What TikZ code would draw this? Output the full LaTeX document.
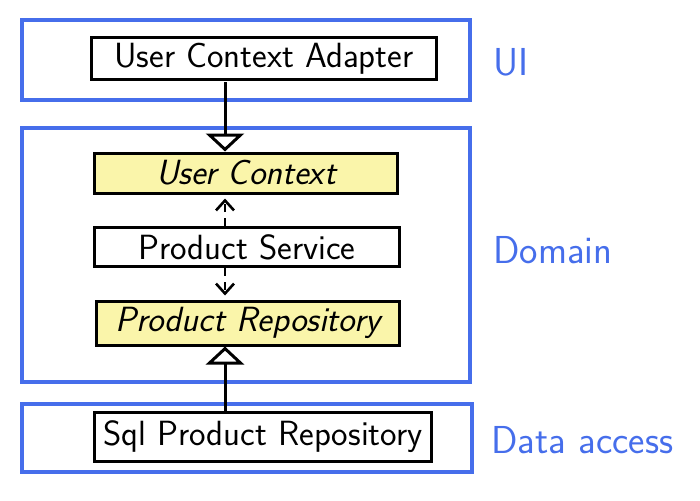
\documentclass[tikz,border=0pt]{standalone}
\usepackage{tikz}
\usepackage{xcolor}
\usetikzlibrary{
    arrows.meta,
    calc,
    positioning
}
\definecolor{layerblue}{RGB}{70,110,235}
\definecolor{marker}{RGB}{250,245,170}

\begin{document}
\begin{tikzpicture}[x=1pt, y=-1pt,
    layer/.style={draw=layerblue, line width=3.2pt, inner sep=0pt},
    part/.style={draw, line width=3pt, inner sep=0pt, font=\fontsize{35}{40}\sffamily},
    hot/.style={part, fill=marker, font=\fontsize{35}{40}\sffamily\itshape},
    tag/.style={text=layerblue, font=\fontsize{39}{44}\sffamily},
    uses/.style={-{Straight Barb[length=10pt, width=18pt]}, line width=2.6pt, dash pattern=on 8pt off 6pt},
    realizes/.style={-{Triangle[open, length=18pt, width=38pt]}, line width=3pt}
]
                        \useasboundingbox (0, 0) rectangle (700, 500);

                        \node[layer, minimum width=448, minimum height=80] (ui) at (246, 60) {};
                        \node[layer, minimum width=448, minimum height=254] (domain) at (246, 255) {};
                        \node[layer, minimum width=450, minimum height=68] (data) at (247, 438) {};

                        \node[tag, anchor=west] (uitag) at (490, 62) {UI};
                        \node[tag, anchor=west] (domaintag) at (490, 250) {Domain};
                        \node[tag, anchor=west] (datatag) at (488, 440) {Data access};

                        \node[part, minimum width=345, minimum height=42] (adapter) at (264, 59) {User Context Adapter};
                        \node[hot, minimum width=303, minimum height=40] (ucontext) at (246, 173) {User Context};
                        \node[part, fill=white, minimum width=305, minimum height=39] (pservice) at (247, 247) {Product Service};
                        \node[hot, minimum width=303, minimum height=44] (prepo) at (248, 323) {Product Repository};
                        \node[part, minimum width=337, minimum height=49] (sqlrepo) at (263, 437) {Sql Product Repository};

                        \coordinate (axis) at (225, 0);

                        \draw
                        ($(axis |- adapter.south) + (0, 1)$) edge[realizes] (axis |- ucontext.north)
                        (axis |- pservice.north) edge[uses] ($(axis |- ucontext.south) + (0, 4)$)
                        (axis |- pservice.south) edge[uses] ($(axis |- prepo.north) + (0, -4)$)
                        (axis |- sqlrepo.north) edge[realizes] (axis |- prepo.south);
                    \end{tikzpicture}
\end{document}
